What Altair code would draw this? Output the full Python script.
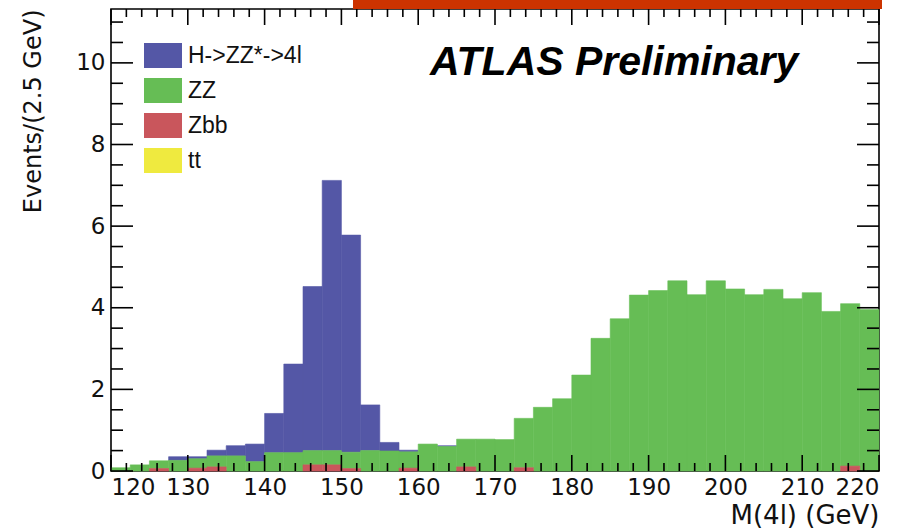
import altair as alt
import pandas as pd

# ---- histogram contents: events per 2.5 GeV bin, 120-220 GeV ----
bin_width = 2.5
bin_start = [120 + bin_width * i for i in range(40)]

higgs = [0.00, 0.00, 0.00, 0.09, 0.05, 0.14, 0.25, 0.43, 0.96, 2.17,
         4.02, 6.62, 5.32, 1.12, 0.21, 0.04, 0.00, 0.02, 0.00, 0.00,
         0.00, 0.00, 0.00, 0.00, 0.00, 0.00, 0.00, 0.00, 0.00, 0.00,
         0.00, 0.00, 0.00, 0.00, 0.00, 0.00, 0.00, 0.00, 0.00, 0.00]
zz = [0.08, 0.15, 0.19, 0.26, 0.23, 0.27, 0.37, 0.23, 0.45, 0.45,
      0.35, 0.35, 0.40, 0.50, 0.49, 0.40, 0.66, 0.60, 0.68, 0.78,
      0.77, 1.21, 1.56, 1.77, 2.35, 3.25, 3.73, 4.31, 4.42, 4.66,
      4.32, 4.66, 4.46, 4.32, 4.45, 4.22, 4.37, 3.91, 3.98, 3.96]
zbb = [0.00, 0.00, 0.06, 0.00, 0.07, 0.10, 0.00, 0.00, 0.00, 0.00,
       0.15, 0.15, 0.06, 0.00, 0.00, 0.07, 0.00, 0.00, 0.10, 0.00,
       0.00, 0.08, 0.00, 0.00, 0.00, 0.00, 0.00, 0.00, 0.00, 0.00,
       0.00, 0.00, 0.00, 0.00, 0.00, 0.00, 0.00, 0.00, 0.12, 0.00]
ttbar = [0.0] * 40

processes = ["H->ZZ*->4l", "ZZ", "Zbb", "tt"]
colors = ["#5457A6", "#66BD55", "#C9565C", "#EFEA3F"]
stack_order = {"Zbb": 0, "tt": 1, "ZZ": 2, "H->ZZ*->4l": 3}
series = {"H->ZZ*->4l": higgs, "ZZ": zz, "Zbb": zbb, "tt": ttbar}

rows = []
for name, vals in series.items():
    for lo, v in zip(bin_start, vals):
        rows.append({"process": name, "lo": lo, "hi": lo + bin_width,
                     "events": v, "order": stack_order[name]})
hist = pd.DataFrame(rows)

# ---- axis ticks (drawn inward, ROOT style) ----
x_major = [120, 130, 140, 150, 160, 170, 180, 190, 200, 210, 220]
x_minor = [v for v in range(122, 220, 2) if v % 10 != 0]
y_major = [0, 2, 4, 6, 8, 10]
y_minor = [0.5 * k for k in range(1, 23) if (0.5 * k) % 2 != 0]
y_labels = [0, 2, 4, 6, 8, 10]

header = ["ATLAS Preliminary"]

W, H = 768, 462
FONT = "Liberation Sans"
AXIS_FONT = "DejaVu Sans"
x_scale = alt.Scale(domain=[120, 220], nice=False, zero=False)
y_scale = alt.Scale(domain=[0, 11.32], nice=False)
color_scale = alt.Scale(domain=processes, range=colors)

legend_symbol = "M-1.52,-1H1.52V1H-1.52Z"

bars = alt.Chart(hist).transform_stack(
    stack="events", groupby=["lo"], as_=["y0", "y1"],
    sort=[alt.SortField("order", order="ascending")]
).transform_filter(
    "datum.events > 0"
).mark_rect(strokeWidth=0.6).encode(
    x=alt.X("lo:Q", scale=x_scale,
            axis=alt.Axis(values=x_major, title="M(4l) (GeV)", titleAnchor="end",
                          labelFontSize=23, titleFontSize=26, labelPadding=5,
                          titlePadding=3, format="d")),
    x2="hi:Q",
    y=alt.Y("y0:Q", scale=y_scale,
            axis=alt.Axis(values=y_labels, title="Events/(2.5 GeV)", titleAnchor="end",
                          labelFontSize=23, titleFontSize=24, labelPadding=6,
                          titlePadding=30, format="d")),
    y2="y1:Q",
    color=alt.Color("process:N", scale=color_scale,
                    legend=alt.Legend(orient="none", legendX=39.5, legendY=34,
                                      title=None, symbolType=legend_symbol,
                                      symbolSize=625, symbolStrokeWidth=0,
                                      symbolOpacity=1, labelFontSize=23,
                                      labelFont=FONT, labelOffset=12.5,
                                      rowPadding=10, padding=0, labelLimit=300,
                                      labelColor="#111111")),
    stroke=alt.Stroke("process:N", scale=color_scale, legend=None),
)

def x_ticks(values, length, top):
    y0 = 0 if top else H
    y1 = length if top else H - length
    return alt.Chart(pd.DataFrame({"v": values})).mark_rule(
        color="black", strokeWidth=1.6
    ).encode(x=alt.X("v:Q", scale=x_scale),
             y=alt.value(y0), y2=alt.value(y1))

def y_ticks(values, length, right):
    x0 = W if right else 0
    x1 = W - length if right else length
    return alt.Chart(pd.DataFrame({"v": values})).mark_rule(
        color="black", strokeWidth=1.6
    ).encode(y=alt.Y("v:Q", scale=y_scale),
             x=alt.value(x0), x2=alt.value(x1))

ticks = [
    x_ticks(x_major, 16, False), x_ticks(x_minor, 8, False),
    x_ticks(x_major, 16, True), x_ticks(x_minor, 8, True),
    y_ticks(y_major, 22, False), y_ticks(y_minor, 12, False),
    y_ticks(y_major, 22, True), y_ticks(y_minor, 12, True),
]

label = alt.Chart(pd.DataFrame({"t": header})).mark_text(
    font=FONT, fontSize=41, fontWeight="bold", fontStyle="italic",
    align="left", baseline="alphabetic", color="black"
).encode(text="t:N", x=alt.value(319), y=alt.value(66))

banner = alt.Chart(pd.DataFrame({"t": header})).mark_rect(color="#CC3300").encode(
    x=alt.value(242), x2=alt.value(771), y=alt.value(-9), y2=alt.value(0)
)

chart = alt.layer(bars, *ticks, label, banner).properties(
    width=W, height=H,
    padding={"left": 111, "top": 9, "right": 35, "bottom": 61},
    autosize=alt.AutoSizeParams(type="none"),
    background="white",
).configure_view(
    stroke="black", strokeWidth=1.6
).configure_axis(
    domain=False, ticks=False, grid=False,
    labelFont=AXIS_FONT, titleFont=AXIS_FONT,
    labelColor="#111111", titleColor="#111111",
    titleFontWeight="normal"
)

chart.save("out.html", embed_options={"renderer": "svg", "actions": False})
